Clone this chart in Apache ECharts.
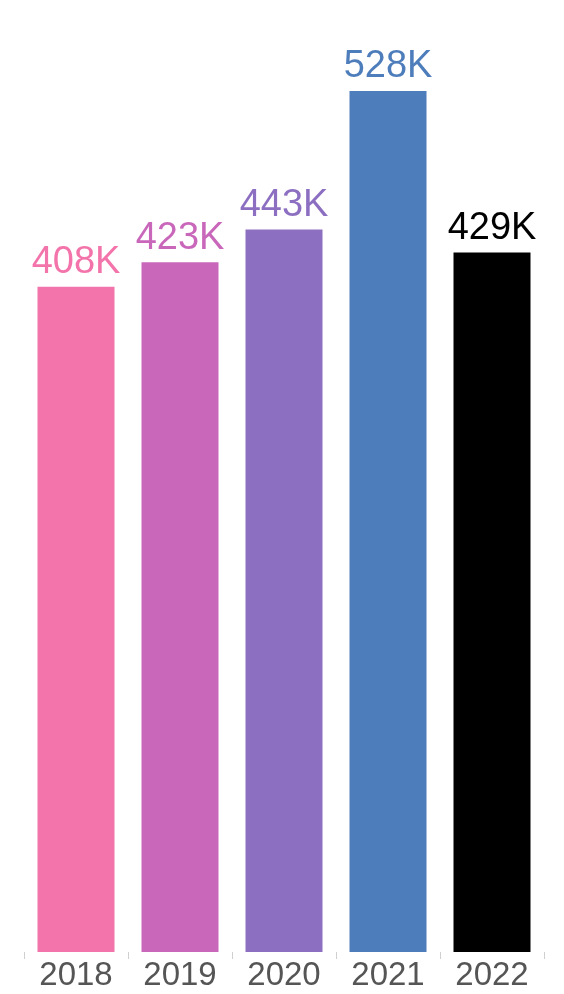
<!DOCTYPE html>
<html>
<head>
<meta charset="utf-8">
<script src="https://cdn.jsdelivr.net/npm/echarts@6/dist/echarts.min.js"></script>
<style>
    html, body { margin: 0; padding: 0; background: #fff; }
    #bar { width: 564px; height: 994px; }
</style>
</head>
<body>
<div id="bar"></div>
<script>
// chart data
const years = ["2018", "2019", "2020", "2021", "2022"];
const values = [408, 423, 443, 528, 429]; // thousands
const barColors = ["#F374AA", "#C968BA", "#8D6FC2", "#4E7DBB", "#000000"];

const myChart = echarts.init(document.getElementById("bar"));

const option = {
    animation: false,
    textStyle: { fontFamily: "Liberation Sans, Arial, sans-serif" },
    grid: {
        left: 24,
        right: 20,
        top: 91,
        bottom: 42,
    },
    xAxis: {
        type: "category",
        data: years,
        axisLine: { show: false },
        axisTick: {
            show: true,
            length: 7,
            lineStyle: { color: "#d0d0d0" },
        },
        axisLabel: {
            color: "#555",
            fontSize: 33,
            margin: 7,
        },
    },
    yAxis: {
        type: "value",
        min: 0,
        max: 528,
        show: false,
        splitLine: { show: false },
    },
    series: [
        {
            type: "bar",
            barWidth: 77,
            data: values.map((v, i) => ({
                value: v,
                itemStyle: { color: barColors[i] },
                label: { color: barColors[i] },
            })),
            label: {
                show: true,
                position: "top",
                distance: 5,
                fontSize: 38,
                formatter: (p) => p.value + "K",
            },
        },
    ],
};

myChart.setOption(option);
</script>
</body>
</html>
